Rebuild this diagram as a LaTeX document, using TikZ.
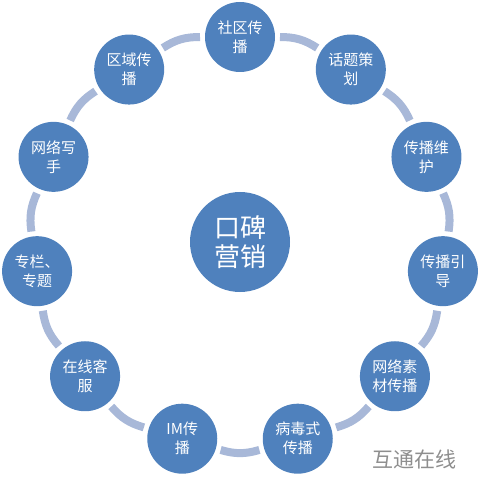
\documentclass[tikz,border=0pt]{standalone}
\usepackage{fontspec}
\newfontfamily\cjk{Noto Sans CJK SC}
\usepackage{xcolor}
\usepackage{tikz}
\usetikzlibrary{positioning}
\definecolor{spotblue}{HTML}{4F81BD}
\definecolor{ringblue}{HTML}{A8B8D8}
\definecolor{markgray}{HTML}{8E8E8E}

\begin{document}
\begin{tikzpicture}[x=1pt,y=1pt,
  spot/.style={circle,fill=spotblue,minimum size=70pt,inner sep=0pt,outer sep=5pt,
               text=white,align=center,font=\cjk\fontsize{15}{19}\selectfont},
  hub/.style={spot,minimum size=100pt,font=\cjk\fontsize{26}{29}\selectfont},
  band/.style={draw=ringblue,line width=8pt,bend left=16.36}]
\useasboundingbox (0,0) rectangle (481,477);
\node[hub] (core) at (240,235) {口碑\\营销};
\foreach \i/\t in {0/{社区传\\播},1/{话题策\\划},2/{传播维\\护},3/{传播引\\导},
                   4/{网络素\\材传播},5/{病毒式\\传播},6/{IM传\\播},7/{在线客\\服},
                   8/{专栏、\\专题},9/{网络写\\手},10/{区域传\\播}}
  \node[spot] (s\i) at ([shift={(240,235)}]{90-\i*360/11}:205) {\t};
\foreach \u/\v in {0/1,1/2,2/3,3/4,4/5,5/6,6/7,7/8,8/9,9/10,10/0}
  \draw[band] (s\u) to (s\v);
\node[text=markgray,font=\cjk\fontsize{21}{24}\selectfont] (mark) at (414,18) {互通在线};
\end{tikzpicture}
\end{document}
